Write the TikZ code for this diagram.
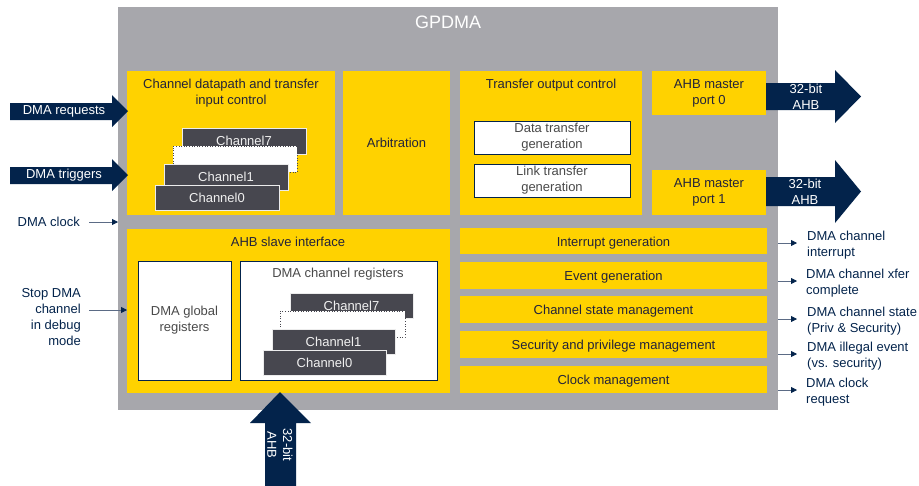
\documentclass[tikz,border=0pt]{standalone}
\usepackage{fontspec}
\setmainfont{Liberation Sans}
\usetikzlibrary{arrows.meta}
\definecolor{styellow}{HTML}{FFD200}
\definecolor{stgray}{HTML}{A7A7AC}
\definecolor{stnavy}{HTML}{03234B}
\definecolor{chdark}{HTML}{47474F}
\definecolor{txtdark}{HTML}{23233A}
\definecolor{txtgray}{HTML}{4A4A4A}
\definecolor{shaft}{HTML}{5B6B85}
\begin{document}
\begin{tikzpicture}[x=1pt,y=-1pt,
  font=\fontsize{13}{15.8}\selectfont,
  box/.style={anchor=north west, inner sep=0pt, outer sep=0pt},
  ybox/.style={box, fill=styellow, text=txtdark, align=center},
  bar/.style={ybox, minimum width=307, text height=11pt, text depth=0.5pt},
  wbox/.style={box, fill=white, draw=stnavy, line width=0.8pt, text=txtgray, align=center},
  chbox/.style={box, fill=chdark, draw=white!85!gray, line width=0.6pt, text=white!88!gray, text height=10.5pt, text depth=1pt},
  dotbox/.style={box, fill=white, draw=chdark, dotted, line width=0.6pt},
  ttl/.style={text=txtdark, align=center, inner sep=0pt},
  lbl/.style={text=stnavy, inner sep=0pt},
  wtxt/.style={text=white, align=center, inner sep=0pt},
  tarrow/.style={draw=shaft, line width=0.8pt, -{Triangle[length=6pt,width=6pt,color=stnavy]}},
  barrow/.style={fill=stnavy}]
\useasboundingbox (0,0) rectangle (919,485);
% main gray box
\node[box, fill=stgray, minimum width=660, minimum height=403] (main) at (118,7) {};
\node[wtxt, font=\fontsize{18}{20}\selectfont] (title) at (448,22) {GPDMA};

% channel datapath
\node[ybox, minimum width=208, minimum height=144] (dp) at (127,71) {};
\node[ttl] (dpt) at (231,93) {Channel datapath and transfer\\input control};
\node[chbox, minimum width=124, minimum height=26] (dc7) at (182,128) {Channel7};
\node[dotbox, minimum width=124, minimum height=26] (dcx) at (173,146) {};
\node[chbox, minimum width=124, minimum height=26] (dc1) at (164,164) {Channel1};
\node[chbox, minimum width=124, minimum height=25] (dc0) at (155,185) {Channel0};

% arbitration
\node[ybox, minimum width=107, minimum height=144] (arb) at (343,71) {Arbitration};

% transfer output control
\node[ybox, minimum width=182, minimum height=144] (toc) at (460,71) {};
\node[ttl] (toct) at (551,85) {Transfer output control};
\node[wbox, minimum width=156, minimum height=33] (dtg) at (474,121) {Data transfer\\generation};
\node[wbox, minimum width=156, minimum height=33] (ltg) at (474,164) {Link transfer\\generation};

% AHB master ports
\node[ybox, minimum width=114, minimum height=44] (mp0) at (652,71) {AHB master\\port 0};
\node[ybox, minimum width=114, minimum height=45] (mp1) at (652,170) {AHB master\\port 1};

% AHB slave interface
\node[ybox, minimum width=323, minimum height=164] (slv) at (127,229) {};
\node[ttl] (slvt) at (288,242) {AHB slave interface};
\node[wbox, minimum width=93, minimum height=119] (glob) at (138,261) {DMA global\\registers};
\node[wbox, minimum width=197, minimum height=119] (creg) at (240,261) {};
\node[text=txtgray, inner sep=0pt] (cregt) at (338,274) {DMA channel registers};
\node[chbox, minimum width=123, minimum height=25] (rc7) at (290,293) {Channel7};
\node[dotbox, minimum width=125, minimum height=26] (rcx) at (280,311) {};
\node[chbox, minimum width=123, minimum height=25] (rc1) at (272,329) {Channel1};
\node[chbox, minimum width=123, minimum height=25] (rc0) at (263,350) {Channel0};

% right bars
\node[bar, minimum height=26] (b1) at (460,228) {Interrupt generation};
\node[bar, minimum height=27] (b2) at (460,262) {Event generation};
\node[bar, minimum height=27] (b3) at (460,296) {Channel state management};
\node[bar, minimum height=27] (b4) at (460,331) {Security and privilege management};
\node[bar, minimum height=27] (b5) at (460,366) {Clock management};

% right labels
\node[lbl, anchor=west, align=left] (o1) at (807,245.5) {DMA channel\\interrupt};
\node[lbl, anchor=west, align=left] (o2) at (806,283.5) {DMA channel xfer\\complete};
\node[lbl, anchor=west, align=left] (o3) at (807,321.5) {DMA channel state\\(Priv \& Security)};
\node[lbl, anchor=west, align=left] (o4) at (807,356.5) {DMA illegal event\\(vs. security)};
\node[lbl, anchor=west, align=left] (o5) at (806,392.5) {DMA clock\\request};
\foreach \o in {o1,o2,o3,o4,o5}
  \draw[tarrow] (\o.west -| main.east) ++(0,-2.5) -- ++(19,0);

% left labels
\node[lbl, anchor=east] (clk) at (80,222) {DMA clock};
\draw[tarrow] ([xshift=9]clk.east) -- (clk.east -| main.west);
\node[lbl, anchor=east, align=right] (stop) at (81,317) {Stop DMA\\channel\\in debug\\mode};
\coordinate (stopy) at (0,310);
\draw[tarrow] ([xshift=8]stop.east |- stopy) -- (stopy -| slv.west);

% left block arrows
\fill[barrow] (10,103) -- (112,103) -- (112,95) -- (128,111) -- (112,127) -- (112,120) -- (10,120) -- cycle;
\node[wtxt] (req) at (64,111) {DMA requests};
\fill[barrow] (10,167) -- (112,167) -- (112,159) -- (128,175) -- (112,191) -- (112,184) -- (10,184) -- cycle;
\node[wtxt] (trg) at (64,175) {DMA triggers};

% right block arrows
\fill[barrow] (mp0.east |- 0,83) -- (835,83) -- (835,70) -- (861,96.5) -- (835,123) -- (835,110) -- (mp0.east |- 0,110) -- cycle;
\node[wtxt] (a0) at (806,97) {32-bit\\AHB};
\fill[barrow] (mp1.east |- 0,177) -- (835,177) -- (835,160) -- (861,191.5) -- (835,223) -- (835,206) -- (mp1.east |- 0,206) -- cycle;
\node[wtxt] (a1) at (805,191.5) {32-bit\\AHB};

% bottom block arrow
\fill[barrow] (280,392) -- (311,423) -- (296,423) -- (296,486) -- (265,486) -- (265,423) -- (250,423) -- cycle;
\node[wtxt, rotate=-90] (a2) at (280,445) {32-bit\\AHB};
\end{tikzpicture}
\end{document}
